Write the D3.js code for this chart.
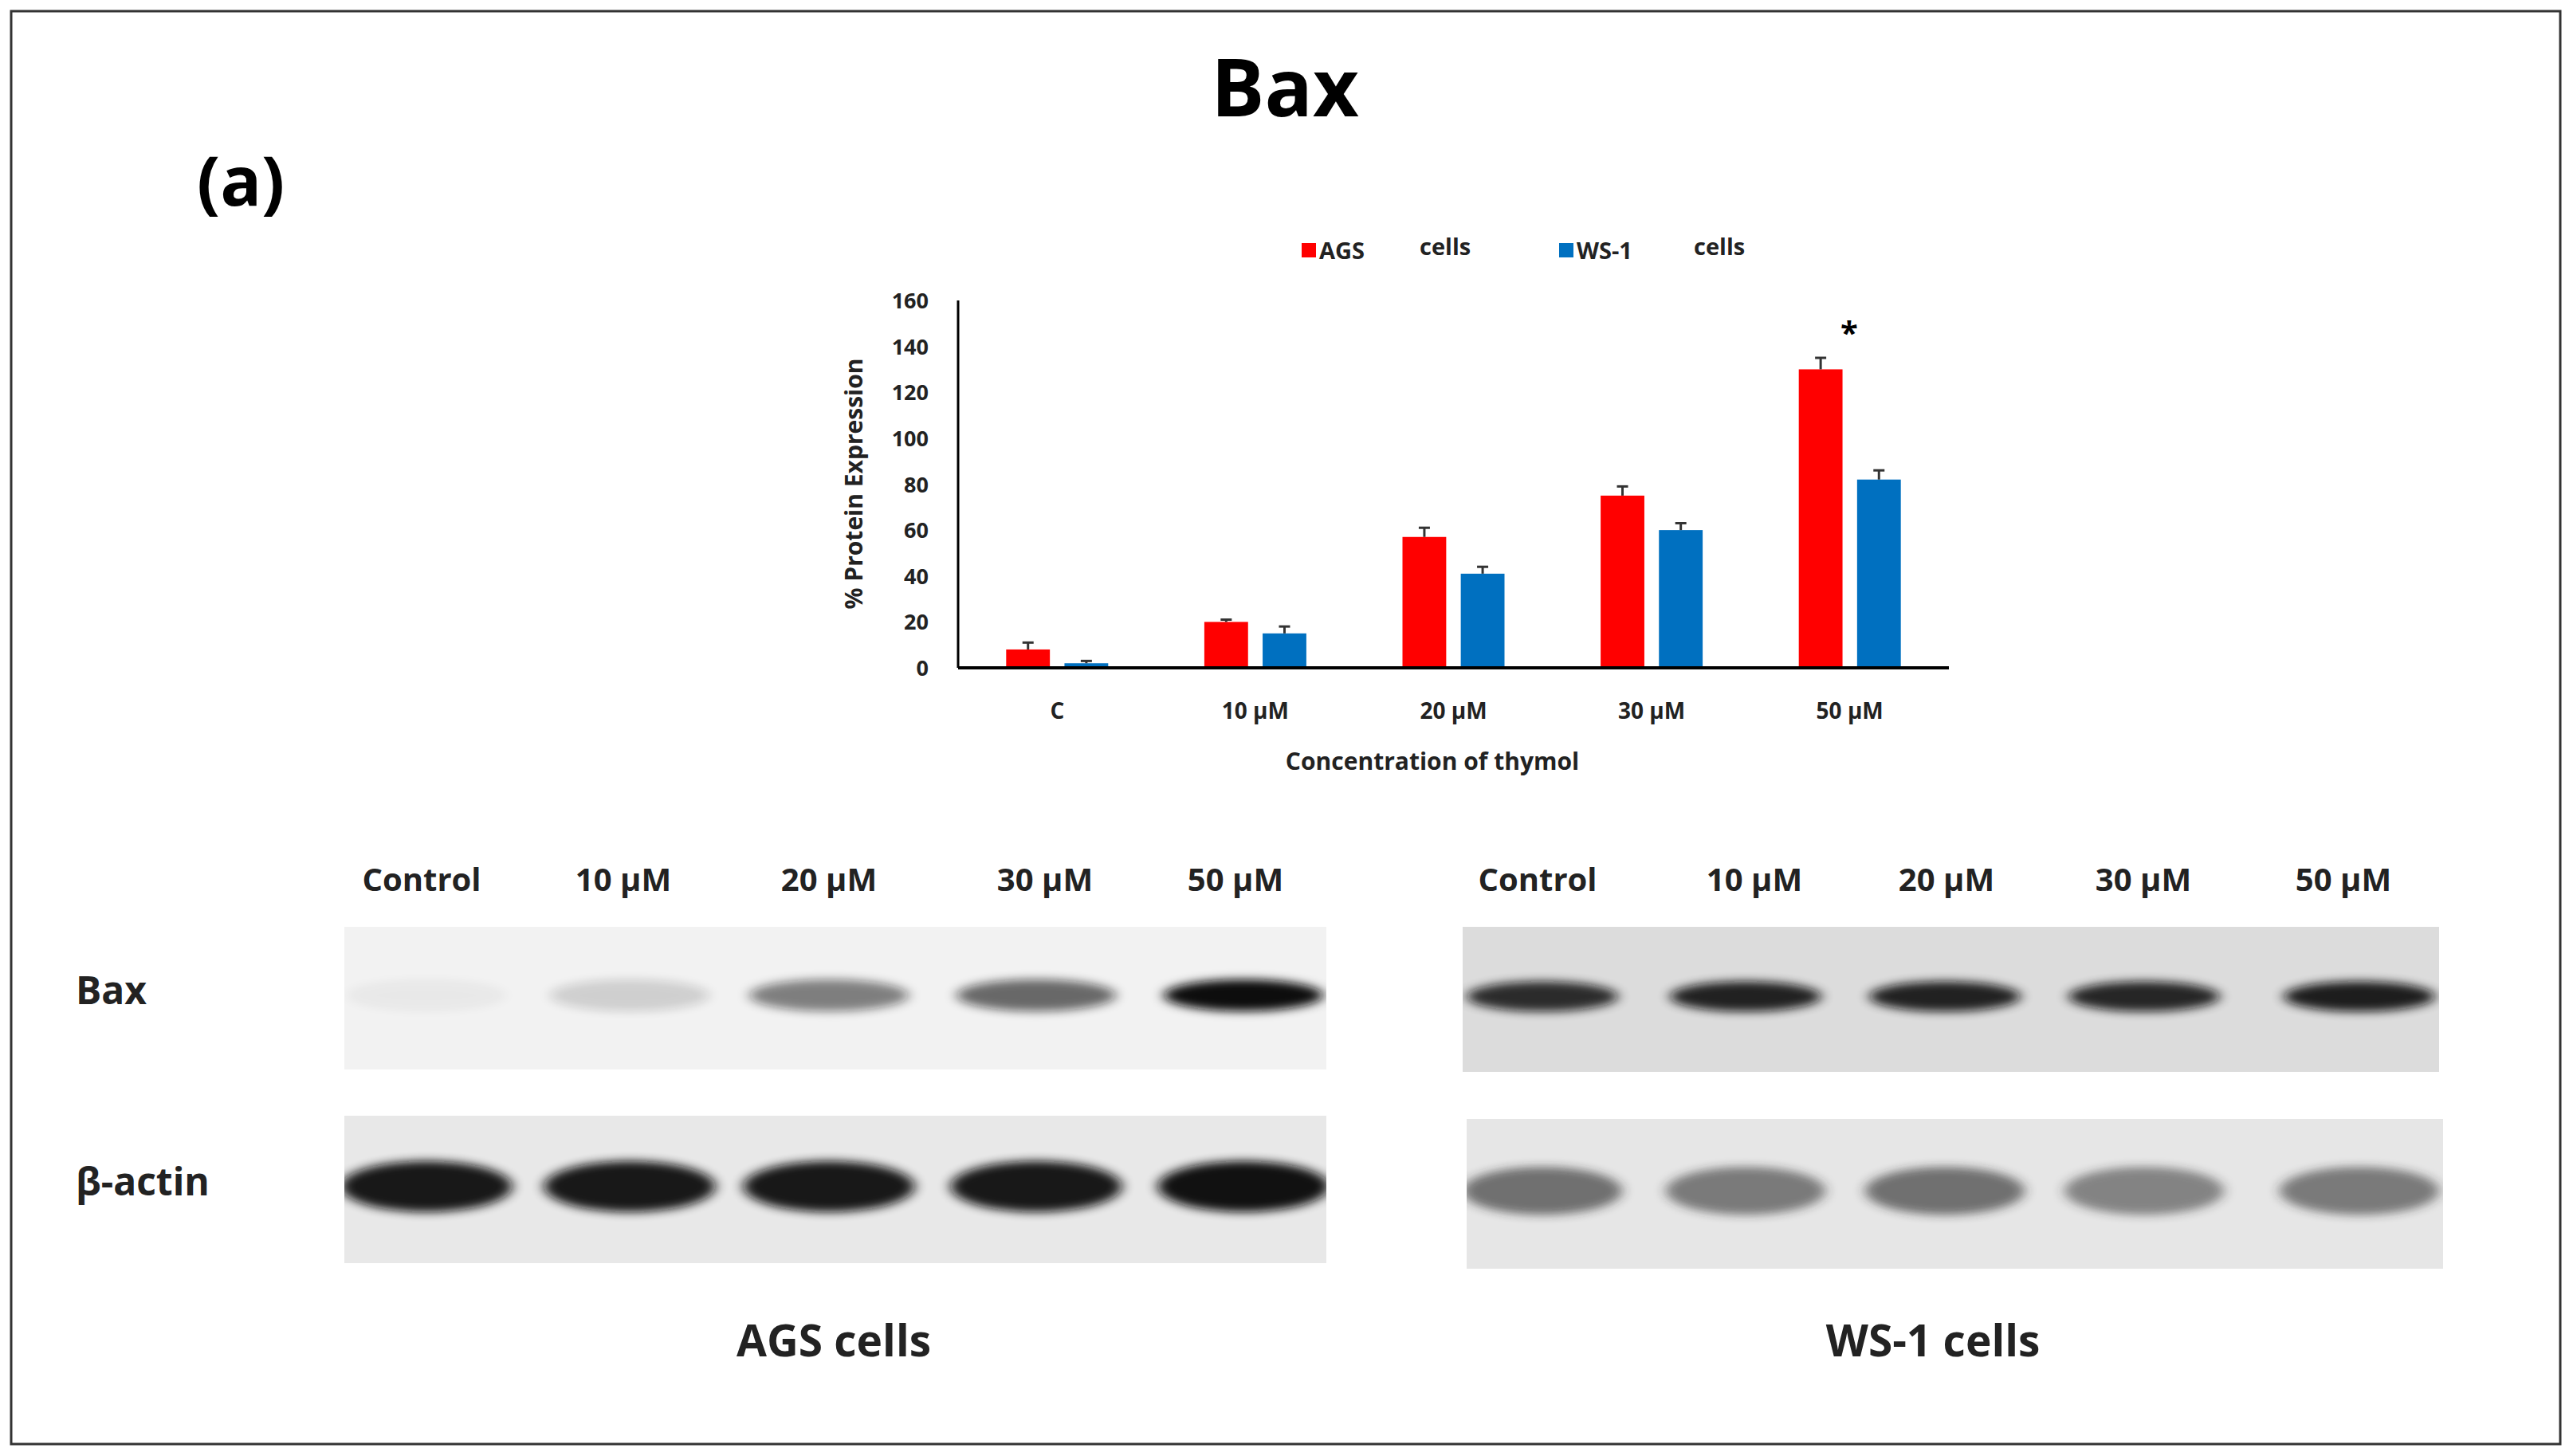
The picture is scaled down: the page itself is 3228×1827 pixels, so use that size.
<!DOCTYPE html>
<html><head><meta charset="utf-8">
<script src="https://cdn.jsdelivr.net/npm/d3@7"></script>
<style>body{margin:0;background:#fff}svg{display:block}</style>
</head><body>
<script>
const categories = ["C","10 μM","20 μM","30 μM","50 μM"];
const series = ["AGS","WS-1"];
const agsValues = [8, 20, 57, 75, 130];
const agsErrors = [3, 1, 4, 4, 5];
const wsValues = [2, 15, 41, 60, 82];
const wsErrors = [1, 3, 3, 3, 4];
const yTicks = [0,20,40,60,80,100,120,140,160];
const blotLanes = ["Control","10 μM","20 μM","30 μM","50 μM"];
const agsBax = [0.04, 0.15, 0.5, 0.6, 1.0];
const agsActin = [0.95, 0.95, 0.95, 0.95, 0.98];
const wsBax = [0.85, 0.9, 0.9, 0.88, 0.92];
const wsActin = [0.6, 0.55, 0.6, 0.5, 0.55];

const W=3228,H=1827, F="'Open Sans', Lato, sans-serif";
const svg=d3.select("body").append("svg").attr("width",W).attr("height",H);
const defs=svg.append("defs");
defs.append("filter").attr("id","blur").attr("x","-20%").attr("y","-50%").attr("width","140%").attr("height","200%").append("feGaussianBlur").attr("stdDeviation","8 6");
svg.append("rect").attr("x",14).attr("y",14).attr("width",3198).attr("height",1798).attr("fill","#fff").attr("stroke","#333").attr("stroke-width",3);
svg.append("text").attr("x",1612).attr("y",146).attr("text-anchor","middle").attr("font-family",F).attr("font-weight","bold").attr("font-size",100).text("Bax");
svg.append("text").attr("x",247).attr("y",258).attr("font-family",F).attr("font-weight","bold").attr("font-size",86).text("(a)");

// bar chart
const x0=d3.scaleBand().domain(categories).range([1202,2445]);
const x1=d3.scaleBand().domain(series).range([-64,64]).paddingInner(0.25);
const y=d3.scaleLinear().domain([0,160]).range([838,377]);
const g=svg.append("g").attr("font-family",F).attr("font-weight","bold");
const data=[agsValues,wsValues], errs=[agsErrors,wsErrors], cols=["#ff0000","#0070c0"];
series.forEach((s,si)=>{
  categories.forEach((c,i)=>{
    const cx=x0(c)+x0.bandwidth()/2+x1(s);
    g.append("rect").attr("x",cx).attr("y",y(data[si][i])).attr("width",x1.bandwidth()).attr("height",y(0)-y(data[si][i])).attr("fill",cols[si]);
    const mx=cx+x1.bandwidth()/2;
    g.append("line").attr("x1",mx).attr("x2",mx).attr("y1",y(data[si][i])).attr("y2",y(data[si][i]+errs[si][i])).attr("stroke","#333").attr("stroke-width",3);
    g.append("line").attr("x1",mx-7).attr("x2",mx+7).attr("y1",y(data[si][i]+errs[si][i])).attr("y2",y(data[si][i]+errs[si][i])).attr("stroke","#333").attr("stroke-width",3);
  });
});
g.append("line").attr("x1",1202).attr("x2",1202).attr("y1",377).attr("y2",838).attr("stroke","#000").attr("stroke-width",3);
g.append("line").attr("x1",1202).attr("x2",2445).attr("y1",y(0)).attr("y2",y(0)).attr("stroke","#000").attr("stroke-width",4);
yTicks.forEach(t=>g.append("text").attr("x",1165).attr("y",y(t)+10).attr("text-anchor","end").attr("font-size",27).attr("fill","#222").text(t));
categories.forEach(c=>g.append("text").attr("x",x0(c)+x0.bandwidth()/2).attr("y",902).attr("text-anchor","middle").attr("font-size",28).attr("fill","#222").text(c));
g.append("text").attr("x",1797).attr("y",966).attr("text-anchor","middle").attr("font-size",30).attr("fill","#222").text("Concentration of thymol");
g.append("text").attr("transform","translate(1082,607) rotate(-90)").attr("text-anchor","middle").attr("font-size",30).attr("fill","#222").text("% Protein Expression");
g.append("text").attr("x",2320).attr("y",432).attr("text-anchor","middle").attr("font-size",40).text("*");
// legend
[[1633,"AGS",1781],[1956,"WS-1",2125]].forEach((l,i)=>{
  g.append("rect").attr("x",l[0]).attr("y",305).attr("width",18).attr("height",18).attr("fill",cols[i]);
  g.append("text").attr("x",l[0]+22).attr("y",325).attr("font-size",29).attr("fill","#222").text(l[1]);
  g.append("text").attr("x",l[2]).attr("y",320).attr("font-size",29).attr("fill","#222").text("cells");
});

// blots
const b=svg.append("g").attr("font-family",F).attr("font-weight","bold");
let pid=0;
function panel(x,w,yy,h,lanesX,vals,bw,bh,bg,dark){
  const id="clip"+(pid++);
  defs.append("clipPath").attr("id",id).append("rect").attr("x",x).attr("y",yy).attr("width",w).attr("height",h);
  const pg=b.append("g").attr("clip-path",`url(#${id})`);
  pg.append("rect").attr("x",x).attr("y",yy).attr("width",w).attr("height",h).attr("fill",bg);
  vals.forEach((v,i)=>{
    pg.append("ellipse").attr("cx",lanesX[i]).attr("cy",yy+h*0.48).attr("rx",bw/2).attr("ry",bh/2).attr("fill",dark).attr("opacity",v).attr("filter","url(#blur)");
  });
}
const lx=[529,782,1040,1311,1550], rx=[1929,2201,2442,2689,2940];
panel(432,1232,1163,179,[535,790,1040,1300,1560],agsBax,200,40,"#f2f2f2","#111");
panel(432,1232,1400,185,[535,790,1040,1300,1560],agsActin,215,64,"#e8e8e8","#111");
panel(1835,1225,1163,182,[1935,2190,2440,2690,2960],wsBax,190,38,"#dcdcdc","#111");
panel(1840,1225,1404,188,[1935,2190,2440,2690,2960],wsActin,200,60,"#e6e6e6","#222");
blotLanes.forEach((l,i)=>{
  b.append("text").attr("x",lx[i]).attr("y",1118).attr("text-anchor","middle").attr("font-size",40).attr("fill","#222").text(l);
  b.append("text").attr("x",rx[i]).attr("y",1118).attr("text-anchor","middle").attr("font-size",40).attr("fill","#222").text(l);
});
b.append("text").attr("x",95).attr("y",1260).attr("font-size",48).attr("fill","#222").text("Bax");
b.append("text").attr("x",95).attr("y",1500).attr("font-size",48).attr("fill","#222").text("β-actin");
b.append("text").attr("x",1046).attr("y",1702).attr("text-anchor","middle").attr("font-size",55).attr("fill","#222").text("AGS cells");
b.append("text").attr("x",2425).attr("y",1702).attr("text-anchor","middle").attr("font-size",55).attr("fill","#222").text("WS-1 cells");
</script>
</body></html>
